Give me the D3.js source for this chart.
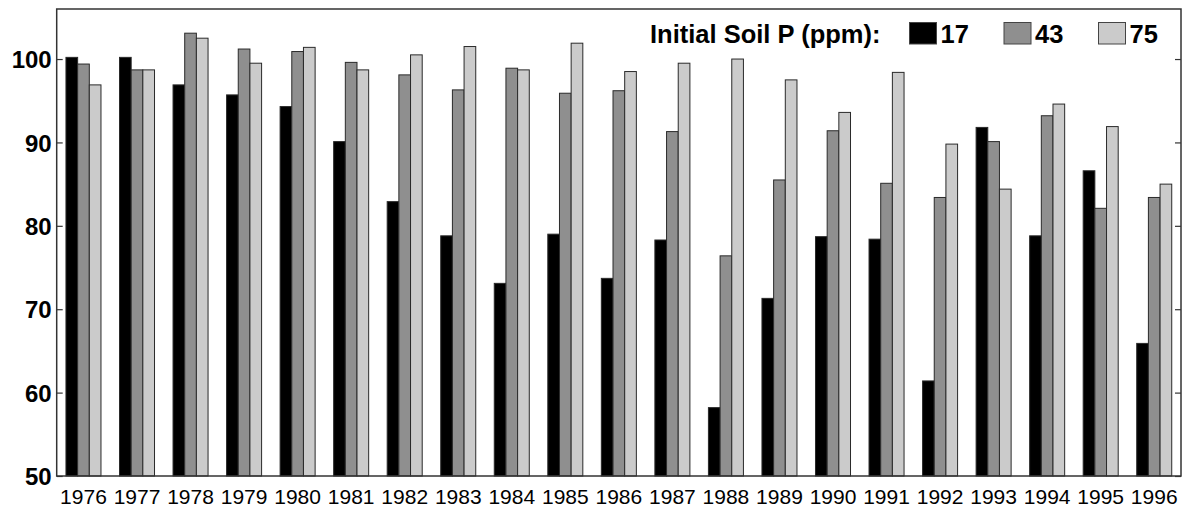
<!DOCTYPE html>
<html>
<head>
<meta charset="utf-8">
<script src="https://cdn.jsdelivr.net/npm/d3@7"></script>
<style>
  html, body { margin: 0; padding: 0; background: #fff; overflow: hidden; }
  svg { display: block; font-family: Arial, "Liberation Sans", sans-serif; }
</style>
</head>
<body>
<svg id="chartId" width="1184" height="512"></svg>
<script>
const years = ["1976", "1977", "1978", "1979", "1980", "1981", "1982", "1983", "1984", "1985", "1986",
  "1987", "1988", "1989", "1990", "1991", "1992", "1993", "1994", "1995", "1996"];

const seriesNames = ["17", "43", "75"];

const p17 = [100.2, 100.2, 96.9, 95.7, 94.3, 90.1, 82.9, 78.8, 73.1, 79.0, 73.7,
  78.3, 58.2, 71.3, 78.7, 78.4, 61.4, 91.8, 78.8, 86.6, 65.9];
const p43 = [99.4, 98.7, 103.1, 101.2, 100.9, 99.6, 98.1, 96.3, 98.9, 95.9, 96.2,
  91.3, 76.4, 85.5, 91.4, 85.1, 83.4, 90.1, 93.2, 82.1, 83.4];
const p75 = [96.9, 98.7, 102.5, 99.5, 101.4, 98.7, 100.5, 101.5, 98.7, 101.9, 98.5,
  99.5, 100.0, 97.5, 93.6, 98.4, 89.8, 84.4, 94.6, 91.9, 85.0];

const yTicks = [50, 60, 70, 80, 90, 100];
const legendTitle = "Initial Soil P (ppm):";

const colors = ["#000000", "#8f8f8f", "#cbcbcb"];

const svg = d3.select("#chartId");
const width = +svg.attr("width");
const height = +svg.attr("height");
const margin = { top: 9, right: 3, bottom: 36, left: 56.7 };
const innerWidth = width - margin.left - margin.right;
const innerHeight = height - margin.top - margin.bottom;

const data = years.map((yr, i) => ({ year: yr, values: [p17[i], p43[i], p75[i]] }));

const xScale = d3.scaleBand()
  .domain(years)
  .range([0, innerWidth])
  .paddingInner(0.346)
  .paddingOuter(0.173);

const x1 = d3.scaleBand()
  .domain(d3.range(seriesNames.length))
  .range([0, xScale.bandwidth()]);

const yScale = d3.scaleLinear()
  .domain([50, 106])
  .range([innerHeight, 0]);

const g = svg.append("g")
  .attr("transform", `translate(${margin.left}, ${margin.top})`);

// bars
const groups = g.selectAll(".year")
  .data(data)
  .enter()
  .append("g")
  .attr("class", "year")
  .attr("transform", d => `translate(${xScale(d.year)}, 0)`);

groups.selectAll("rect")
  .data(d => d.values)
  .enter()
  .append("rect")
  .attr("x", (d, i) => x1(i))
  .attr("y", d => yScale(d))
  .attr("width", x1.bandwidth())
  .attr("height", d => innerHeight - yScale(d))
  .attr("fill", (d, i) => colors[i])
  .attr("stroke", "#2a2a2a")
  .attr("stroke-width", 1);

// frame
g.append("rect")
  .attr("width", innerWidth)
  .attr("height", innerHeight)
  .attr("fill", "none")
  .attr("stroke", "#333")
  .attr("stroke-width", 1.5);

// y axis, ticks inward on both sides
const yAxisG = g.append("g")
  .call(d3.axisRight(yScale).tickValues(yTicks).tickSize(6))
  .attr("font-size", 24)
  .attr("font-weight", "bold")
  .attr("font-family", "Arial, 'Liberation Sans', sans-serif");
yAxisG.select(".domain").remove();
yAxisG.selectAll(".tick line").attr("stroke", "#333").attr("stroke-width", 1.2);
yAxisG.selectAll(".tick text")
  .attr("text-anchor", "end")
  .attr("fill", "#000")
  .attr("x", -5)
  .attr("dy", "0.36em");

const yAxisR = g.append("g")
  .attr("transform", `translate(${innerWidth}, 0)`)
  .call(d3.axisLeft(yScale).tickValues(yTicks).tickSize(6).tickFormat(""));
yAxisR.select(".domain").remove();
yAxisR.selectAll(".tick line").attr("stroke", "#333").attr("stroke-width", 1.2);

// x axis labels
const xAxisG = g.append("g")
  .attr("transform", `translate(0, ${innerHeight})`)
  .call(d3.axisBottom(xScale).tickSize(0))
  .attr("font-size", 21)
  .attr("font-family", "Arial, 'Liberation Sans', sans-serif");
xAxisG.select(".domain").remove();
xAxisG.selectAll(".tick text")
  .attr("fill", "#000")
  .attr("y", 28)
  .attr("dy", null);

// legend
const legend = svg.append("g")
  .attr("font-weight", "bold")
  .attr("font-size", 25.5);

legend.append("text")
  .attr("x", 650)
  .attr("y", 43)
  .text(legendTitle);

const items = legend.selectAll(".item")
  .data(seriesNames)
  .enter()
  .append("g")
  .attr("class", "item")
  .attr("transform", (d, i) => `translate(${909.5 + i * 94.5}, 22.5)`);

items.append("rect")
  .attr("width", 27)
  .attr("height", 21.5)
  .attr("fill", (d, i) => colors[i])
  .attr("stroke", "#444")
  .attr("stroke-width", 1);

items.append("text")
  .attr("x", 31)
  .attr("y", 20.5)
  .text(d => d);
</script>
</body>
</html>
